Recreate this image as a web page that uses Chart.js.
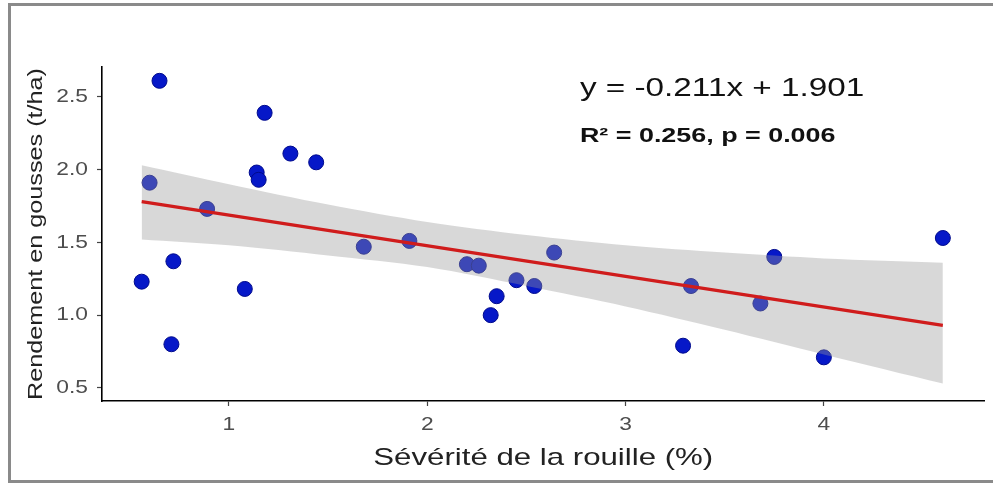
<!DOCTYPE html>
<html>
<head>
<meta charset="utf-8">
<script src="https://cdn.jsdelivr.net/npm/chart.js@4.4.1/dist/chart.umd.min.js"></script>
<style>
  html, body { margin: 0; padding: 0; background: #ffffff; }
  body { width: 993px; height: 485px; position: relative; overflow: hidden; }
  #frame { position: absolute; left: 8px; top: 3px; width: 1200px; height: 474px;
           border-left: 3px solid #8a8a8a; border-top: 3px solid #8a8a8a; border-bottom: 3px solid #8a8a8a; }
  #wrap { position: absolute; left: 0; top: 0; width: 993px; height: 485px; }
</style>
</head>
<body>
<div id="frame"></div>
<div id="wrap"><canvas id="c" width="993" height="485"></canvas></div>
<script>
// ---- data ----
const severity = [0.56,0.60,0.65,0.72,0.71,0.89,1.08,1.14,1.15,1.18,1.31,1.44,1.68,1.91,2.20,2.26,2.32,2.35,2.45,2.54,2.64,3.29,3.33,3.68,3.75,4.00,4.60];
const yieldVals = [1.23,1.91,2.61,1.37,0.80,1.73,1.18,1.98,1.93,2.39,2.11,2.05,1.47,1.51,1.35,1.34,1.00,1.13,1.24,1.20,1.43,0.79,1.20,1.08,1.40,0.71,1.53];

const fitX = [0.56, 4.60];
const fitY = [1.78, 0.93];

const bandX     = [0.56, 1.00, 1.50, 2.00, 2.50, 3.00, 3.50, 4.00, 4.60];
const bandUpper = [2.03, 1.90, 1.76, 1.64, 1.55, 1.48, 1.43, 1.39, 1.36];
const bandLower = [1.52, 1.48, 1.41, 1.33, 1.20, 1.06, 0.90, 0.73, 0.53];

const xTicks = [1, 2, 3, 4];
const xTickLabels = ['1', '2', '3', '4'];
const yTicks = [0.5, 1.0, 1.5, 2.0, 2.5];
const yTickLabels = ['0.5', '1.0', '1.5', '2.0', '2.5'];

const xTitle = 'Sévérité de la rouille (%)';
const yTitle = 'Rendement en gousses (t/ha)';
const eqText = 'y = -0.211x + 1.901';
const statText = 'R² = 0.256, p = 0.006';

// ---- text rendering: the reference glyphs are wider than Arial, stretch along the text direction ----
const FONT = "'Liberation Sans', Arial, sans-serif";
const stretchBySize = { 19: 1.2, 20: 1.26, 21: 1.28, 24: 1.3, 26: 1.28 };
function stretchFor(font) {
  const m = /(\d+(?:\.\d+)?)px/.exec(font);
  return m ? (stretchBySize[Math.round(+m[1])] || 1) : 1;
}
const canvas = document.getElementById('c');
const ctx2d = canvas.getContext('2d');
const origFill = ctx2d.fillText.bind(ctx2d);
const origMeasure = ctx2d.measureText.bind(ctx2d);
ctx2d.fillText = function (t, x, y, maxW) {
  const k = stretchFor(this.font);
  if (k === 1) { return maxW === undefined ? origFill(t, x, y) : origFill(t, x, y, maxW); }
  this.save();
  this.translate(x, y);
  this.scale(k, 1);
  if (maxW === undefined) origFill(t, 0, 0); else origFill(t, 0, 0, maxW / k);
  this.restore();
};
ctx2d.measureText = function (t) {
  const m = origMeasure(t);
  const k = stretchFor(this.font);
  if (k === 1) return m;
  return {
    width: m.width * k,
    actualBoundingBoxAscent: m.actualBoundingBoxAscent,
    actualBoundingBoxDescent: m.actualBoundingBoxDescent,
    actualBoundingBoxLeft: m.actualBoundingBoxLeft * k,
    actualBoundingBoxRight: m.actualBoundingBoxRight * k,
    fontBoundingBoxAscent: m.fontBoundingBoxAscent,
    fontBoundingBoxDescent: m.fontBoundingBoxDescent
  };
};

// ---- chart ----
Chart.defaults.font.family = FONT;

const toXY = (xs, ys) => xs.map((x, i) => ({x: x, y: ys[i]}));

const annotationPlugin = {
  id: 'eqAnnotation',
  afterDraw(chart) {
    const ctx = chart.ctx;
    const xs = chart.scales.x, ys = chart.scales.y;
    const px = xs.getPixelForValue(2.77);
    ctx.save();
    ctx.fillStyle = '#111111';
    ctx.textBaseline = 'alphabetic';
    ctx.textAlign = 'left';
    ctx.font = '26px ' + FONT;
    ctx.fillText(eqText, px, ys.getPixelForValue(2.505));
    ctx.font = 'bold 21px ' + FONT;
    ctx.fillText(statText, px, ys.getPixelForValue(2.19));
    ctx.restore();
  }
};

new Chart(canvas, {
  type: 'scatter',
  data: {
    datasets: [
      {
        label: 'points',
        type: 'scatter',
        data: toXY(severity, yieldVals),
        backgroundColor: 'rgb(6,24,200)',
        borderColor: 'rgb(0,10,140)',
        borderWidth: 1,
        pointRadius: 7.5,
        order: 2
      },
      {
        label: 'upper',
        type: 'line',
        data: toXY(bandX, bandUpper),
        borderWidth: 0,
        borderColor: 'rgba(0,0,0,0)',
        pointRadius: 0,
        fill: false,
        tension: 0.3,
        order: 1
      },
      {
        label: 'lower',
        type: 'line',
        data: toXY(bandX, bandLower),
        borderWidth: 0,
        borderColor: 'rgba(0,0,0,0)',
        pointRadius: 0,
        fill: '-1',
        backgroundColor: 'rgba(153,153,153,0.38)',
        tension: 0.3,
        order: 1
      },
      {
        label: 'fit',
        type: 'line',
        data: toXY(fitX, fitY),
        borderColor: '#d01c1c',
        borderWidth: 3.2,
        pointRadius: 0,
        fill: false,
        order: 0
      }
    ]
  },
  options: {
    responsive: false,
    animation: false,
    layout: { padding: { left: 16, right: 3, top: 67, bottom: 5 } },
    plugins: { legend: { display: false }, tooltip: { enabled: false } },
    scales: {
      x: {
        type: 'linear',
        min: 0.36,
        max: 4.81,
        afterBuildTicks: s => { s.ticks = xTicks.map(v => ({ value: v })); },
        afterFit: s => { s.height = 79; },
        ticks: {
          callback: v => xTickLabels[xTicks.indexOf(v)],
          color: '#4d4d4d',
          font: { size: 19 },
          padding: 7,
          maxRotation: 0,
          autoSkip: false
        },
        grid: { drawOnChartArea: false, drawTicks: true, tickLength: 5, tickColor: '#444', tickWidth: 1.2 },
        border: { display: true, color: '#000', width: 1.6 },
        title: { display: true, text: xTitle, color: '#222', font: { size: 24 }, padding: { top: 0, bottom: 7 } }
      },
      y: {
        type: 'linear',
        min: 0.41,
        max: 2.705,
        afterBuildTicks: s => { s.ticks = yTicks.map(v => ({ value: v })); },
        afterFit: s => { s.width = 86; },
        ticks: {
          callback: v => yTickLabels[yTicks.indexOf(v)],
          color: '#4d4d4d',
          font: { size: 19 },
          padding: 9,
          autoSkip: false
        },
        grid: { drawOnChartArea: false, drawTicks: true, tickLength: 5, tickColor: '#444', tickWidth: 1.2 },
        border: { display: true, color: '#000', width: 1.6 },
        title: { display: true, text: yTitle, color: '#222', font: { size: 20 }, padding: { top: 8, bottom: 0 } }
      }
    }
  },
  plugins: [annotationPlugin]
});
</script>
</body>
</html>
